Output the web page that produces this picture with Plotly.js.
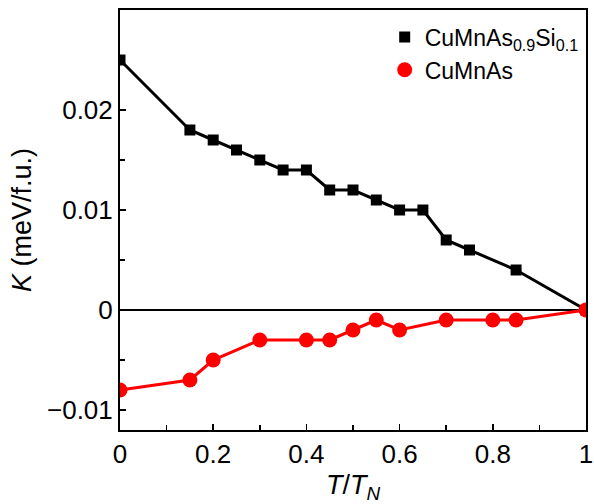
<!DOCTYPE html>
<html><head><meta charset="utf-8">
<script src="https://cdn.plot.ly/plotly-3.0.1.min.js"></script>
<style>body{margin:0;padding:0;background:#fff}#chart{width:594px;height:504px}</style>
</head><body><div id="chart"></div>
<script>
const xSi = [0, 0.15, 0.2, 0.25, 0.3, 0.35, 0.4, 0.45, 0.5, 0.55, 0.6, 0.65, 0.7, 0.75, 0.85, 1.0];
const kSi = [0.025, 0.018, 0.017, 0.016, 0.015, 0.014, 0.014, 0.012, 0.012, 0.011, 0.010, 0.010, 0.007, 0.006, 0.004, 0.0];
const xPure = [0, 0.15, 0.2, 0.3, 0.4, 0.45, 0.5, 0.55, 0.6, 0.7, 0.8, 0.85, 1.0];
const kPure = [-0.008, -0.007, -0.005, -0.003, -0.003, -0.003, -0.002, -0.001, -0.002, -0.001, -0.001, -0.001, 0.0];
const nameSi = 'CuMnAs<sub>0.9</sub>Si<sub>0.1</sub>';
const namePure = 'CuMnAs';
const xTickVals = [0, 0.2, 0.4, 0.6, 0.8, 1];
const xTickText = ['0', '0.2', '0.4', '0.6', '0.8', '1'];
const yTickVals = [-0.01, 0, 0.01, 0.02];
const yTickText = ['\u22120.01', '0', '0.01', '0.02'];

const fam = 'Liberation Sans, Arial, sans-serif';
const tickFont = {family: fam, size: 26, color: '#000'};
const titleFont = {family: fam, size: 27, color: '#000'};
const traces = [
  {x: xSi, y: kSi, mode: 'lines', type: 'scatter', showlegend: false,
   line: {color: '#000', width: 3}},
  {x: xPure, y: kPure, mode: 'lines', type: 'scatter', showlegend: false,
   line: {color: '#ff0000', width: 3}},
  {x: xSi, y: kSi, name: nameSi, mode: 'markers', type: 'scatter',
   marker: {symbol: 'square', size: 11, color: '#000'}},
  {x: xPure, y: kPure, name: namePure, mode: 'markers', type: 'scatter',
   marker: {symbol: 'circle', size: 15, color: '#ff0000'}}
];
const layout = {
  width: 594, height: 504,
  margin: {l: 120, r: 8, t: 10, b: 74},
  paper_bgcolor: '#fff', plot_bgcolor: '#fff',
  font: tickFont,
  showlegend: true,
  legend: {x: 0.568, xanchor: 'left', y: 0.987, yanchor: 'top', bgcolor: 'rgba(0,0,0,0)',
           font: {family: fam, size: 23, color: '#000'}, itemwidth: 30, tracegroupgap: 0},
  xaxis: {range: [0, 1], tickvals: xTickVals, ticktext: xTickText, ticks: 'inside', ticklen: 6,
          tickwidth: 1.5, tickcolor: '#000', showline: true, linecolor: '#000', linewidth: 2, mirror: true,
          showgrid: false, zeroline: false, tickfont: tickFont, ticklabeloverflow: 'allow',
          minor: {dtick: 0.1, ticks: 'inside', ticklen: 5, tickwidth: 1.5, tickcolor: '#000', showgrid: false},
          title: {text: '<i>T</i>/<i>T</i><sub><i>N</i></sub>', font: titleFont, standoff: 8}},
  yaxis: {range: [-0.012, 0.03], tickvals: yTickVals, ticktext: yTickText, ticks: 'inside', ticklen: 6,
          tickwidth: 1.5, tickcolor: '#000', showline: true, linecolor: '#000', linewidth: 2, mirror: true,
          showgrid: false, zeroline: true, zerolinecolor: '#000', zerolinewidth: 1.5, tickfont: tickFont,
          minor: {tickvals: [-0.005, 0.005, 0.015, 0.025], ticks: 'inside', ticklen: 5, tickwidth: 1.5, tickcolor: '#000', showgrid: false},
          title: {text: '<i>K</i> (meV/f.u.)', font: titleFont, standoff: 8}}
};
Plotly.newPlot('chart', traces, layout, {displayModeBar: false, staticPlot: true});
</script></body></html>
